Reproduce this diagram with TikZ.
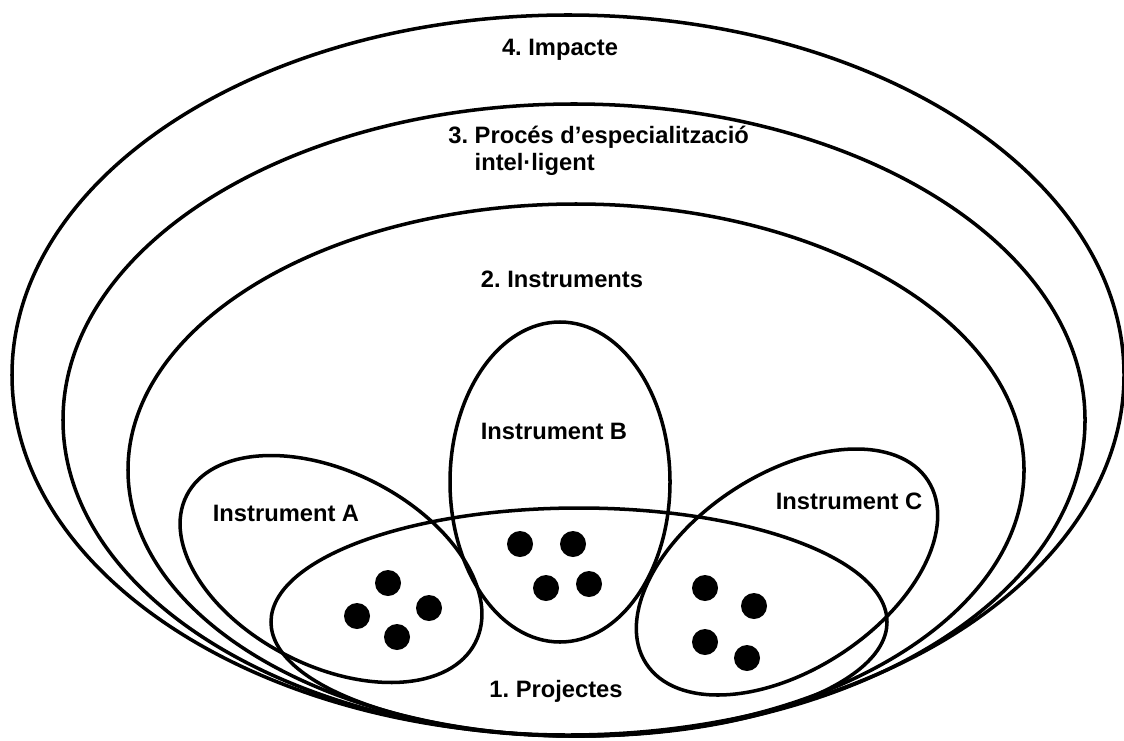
\documentclass[tikz,border=0pt]{standalone}
\usepackage{fontspec}
\setmainfont{Liberation Sans}
\usetikzlibrary{positioning}
\frenchspacing

\begin{document}
\begin{tikzpicture}[x=0.02cm, y=-0.02cm]
		\tikzstyle{Ring} = [draw=black, line width=2pt]
		\tikzstyle{Dot} = [fill=black]
		\tikzstyle{Title} = [font=\bfseries\fontsize{13.5}{15.4}\selectfont, text=black, inner sep=0pt]
		
		\useasboundingbox (0,0) rectangle (1124,740);
		
		% nested layers
		\draw [Ring] (568,375) ellipse [x radius=556, y radius=360];
		\draw [Ring] (574,420) ellipse [x radius=511, y radius=316];
		\draw [Ring] (576,470) ellipse [x radius=448, y radius=266];
		
		% instruments and projects
		\draw [Ring] (560,482) ellipse [x radius=110, y radius=160];
		\draw [Ring, rotate around={-27:(331,569)}] (331,569) ellipse [x radius=162, y radius=97];
		\draw [Ring, rotate around={33:(787,572)}] (787,572) ellipse [x radius=168, y radius=98];
		\draw [Ring] (579,622) ellipse [x radius=308, y radius=114];
		
		\foreach \p in {(388,583),(357,616),(429,608),(397,637),
			(520,544),(573,544),(546,588),(589,584),
			(705,588),(754,606),(705,642),(747,658)}
			\fill [Dot] \p circle [radius=13];
		
		\node (impact) [Title] at (560,50) {4. Impacte};
		\node (process) [Title, align=left, anchor=west] at (448,151) {3. Procés d’especialització\\\phantom{3. }intel·ligent};
		\node (instruments) [Title] at (562,279) {2. Instruments};
		\node (instB) [Title] at (554,431) {Instrument B};
		\node (instA) [Title] at (286,513) {Instrument A};
		\node (instC) [Title] at (849,501) {Instrument C};
		\node (projects) [Title] at (556,691) {1. Projectes};
\end{tikzpicture}
\end{document}
